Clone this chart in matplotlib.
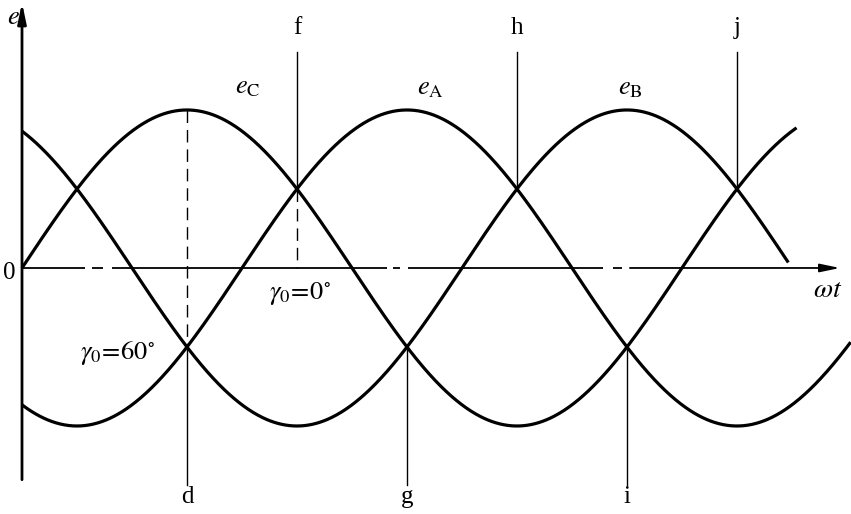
import numpy as np
import matplotlib.pyplot as plt

plt.rcParams['mathtext.fontset'] = 'stix'
plt.rcParams['font.family'] = ['Liberation Serif', 'DejaVu Serif']

# 三相电动势 (角度, 幅值为1)
phase_names = ['C', 'A', 'B']
phase_shift = [0, -120, 120]          # 相位 (度)
phase_end = [422.5, 452.0, 418.0]     # 曲线终点 (度)
label_pos = [(123, 1.14), (222.5, 1.13), (331.6, 1.13)]

# 竖线: 交点角度, 交点值, 标注, 方向
cross_deg = [90, 150, 210, 270, 330, 390]
cross_val = [-0.5, 0.5, -0.5, 0.5, -0.5, 0.5]
cross_name = ['d', 'f', 'g', 'h', 'i', 'j']

# 横轴点划线分段 (度)
axis_seg = [(0, 34.4), (38.2, 44.2), (49.1, 199), (202.4, 206.2),
            (210.5, 316.9), (322.4, 327.3), (331.6, 446.2)]

fig = plt.figure(figsize=(8.51, 5.14), dpi=100)
ax = fig.add_axes([0, 0, 1, 1])
ax.set_xlim(-12, 452.2)
ax.set_ylim(-1.557, 1.696)
ax.axis('off')

for shift, end, name, pos in zip(phase_shift, phase_end, phase_names, label_pos):
    th = np.linspace(0, end, 800)
    ax.plot(th, np.sin(np.radians(th + shift)), color='black', lw=2.3,
            solid_capstyle='butt')
    ax.text(pos[0], pos[1], r'$e_{\mathrm{%s}}$' % name, fontsize=19,
            ha='center', va='center')

top, bottom = 1.367, -1.373
for th, v, name in zip(cross_deg, cross_val, cross_name):
    if v > 0:
        ax.plot([th, th], [v, top], color='black', lw=1.0)
        ax.text(th, 1.52, name, fontsize=18, ha='center', va='center')
    else:
        ax.plot([th, th], [v, bottom], color='black', lw=1.0)
        ax.text(th, -1.45, name, fontsize=18, ha='center', va='center')

# 虚线
ax.plot([90, 90], [1.0, -0.5], color='black', lw=1.0, dashes=(9, 5))
ax.plot([150, 150], [0.5, 0.0], color='black', lw=1.0, dashes=(9, 5))

# 坐标轴
for a, b in axis_seg[:-1]:
    ax.plot([a, b], [0, 0], color='black', lw=1.3, solid_capstyle='butt')
ax.annotate('', xy=(axis_seg[-1][1], 0), xytext=(axis_seg[-1][0], 0),
            arrowprops=dict(arrowstyle='-|>,head_length=1.2,head_width=0.25',
                            color='black', lw=1.3, shrinkA=0, shrinkB=0))
ax.annotate('', xy=(0, 1.68), xytext=(0, -1.34),
            arrowprops=dict(arrowstyle='-|>,head_length=1.2,head_width=0.25',
                            color='black', lw=2.0, shrinkA=0, shrinkB=0))

ax.text(-4.9, 1.58, r'$e$', fontsize=19, ha='center', va='center')
ax.text(-7.1, -0.03, '0', fontsize=18, ha='center', va='center')
ax.text(439.6, -0.14, r'$\omega t$', fontsize=20, ha='center', va='center')
ax.text(151.6, -0.16, r'$\gamma_0\!=\!0^{\circ}$', fontsize=19,
        ha='center', va='center')
ax.text(52.4, -0.54, r'$\gamma_0\!=\!60^{\circ}$', fontsize=19,
        ha='center', va='center')

fig.savefig('out.png', dpi=100)
